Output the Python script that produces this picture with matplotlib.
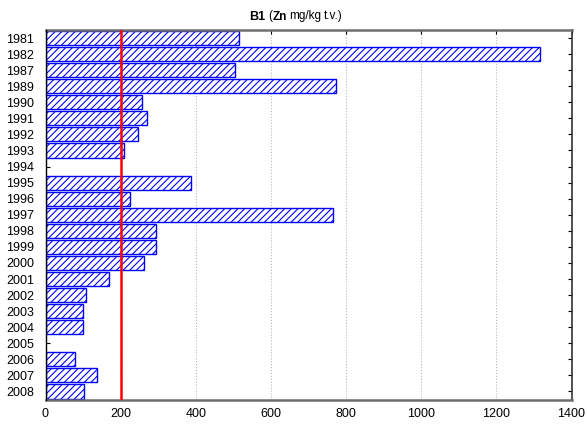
import matplotlib
matplotlib.use("Agg")
import matplotlib.pyplot as plt
import numpy as np

plt.rcParams['font.family'] = ['Liberation Sans', 'DejaVu Sans']
plt.rcParams['hatch.linewidth'] = 0.8

years = ["1981", "1982", "1987", "1989", "1990", "1991", "1992", "1993", "1994",
         "1995", "1996", "1997", "1998", "1999", "2000", "2001", "2002", "2003",
         "2004", "2005", "2006", "2007", "2008"]
zn = [516, 1315, 504, 772, 258, 269, 245, 209, np.nan,
      386, 226, 766, 293, 295, 261, 170, 107, 99,
      99, np.nan, 78, 137, 102]
limit_value = 200
xticks = [0, 200, 400, 600, 800, 1000, 1200, 1400]

fig = plt.figure(figsize=(5.87, 4.25), dpi=100)
ax = fig.add_axes([45.5/587, 1 - 399.5/425, (571.5 - 45.5)/587, (399.5 - 30)/425])

ypos = np.arange(len(years))
vals = np.nan_to_num(np.array(zn, dtype=float), nan=0.0)
bars = ax.barh(ypos, vals, height=0.88, color='white', edgecolor='#0000ff',
               hatch='/////', linewidth=1.0, zorder=2)
for b, v in zip(bars, zn):
    if np.isnan(v):
        b.set_visible(False)

ax.axvline(limit_value, color='#ff0000', linewidth=1.8, zorder=3)

ax.set_xlim(0, 1400)
ax.set_ylim(len(years) - 0.5, -0.5)
ax.set_xticks(xticks)
ax.set_xticklabels([str(t) for t in xticks])
ax.set_yticks(ypos)
ax.set_yticklabels(years)
ax.grid(axis='x', linestyle=':', color='#b8b8b8', linewidth=0.8, zorder=0)
ax.set_axisbelow(True)

ax.tick_params(axis='both', labelsize=9, colors='black', labelcolor='black')
ax.tick_params(axis='x', direction='in', length=3, top=True, bottom=False, pad=6)
ax.tick_params(axis='y', direction='in', length=3, right=True, left=True, pad=8)

ax.spines['left'].set_color('black')
ax.spines['left'].set_linewidth(1.0)
ax.spines['left'].set_zorder(4)
ax.spines['bottom'].set_color('#6e6e6e')
ax.spines['bottom'].set_linewidth(1.8)
ax.spines['top'].set_color('#6e6e6e')
ax.spines['top'].set_linewidth(1.8)
ax.spines['right'].set_color('#333333')
ax.spines['right'].set_linewidth(1.2)

# Title with mixed weights: (text, size, weight, gap in px before next piece)
pieces = [("B1", 9, 'bold', 3.0), ("(", 8.5, 'normal', 0.5), ("Zn", 8.5, 'bold', 2.0),
          ("mg/kg", 8.5, 'normal', 3.0), ("t.v.)", 8.5, 'normal', 0.0)]
renderer = fig.canvas.get_renderer()
texts = []
widths = []
for s, size, w, gap in pieces:
    t = fig.text(0, 0, s, fontsize=size, fontweight=w, va='baseline', ha='left')
    bb = t.get_window_extent(renderer=renderer)
    texts.append((t, gap))
    widths.append(bb.width + gap)
total = sum(widths)
cx = 296
x0 = cx - total / 2
ybase = 425 - 19.5
for (t, gap), w in zip(texts, widths):
    t.set_position((x0 / 587, ybase / 425))
    x0 += w

fig.savefig("out.png", dpi=100)
